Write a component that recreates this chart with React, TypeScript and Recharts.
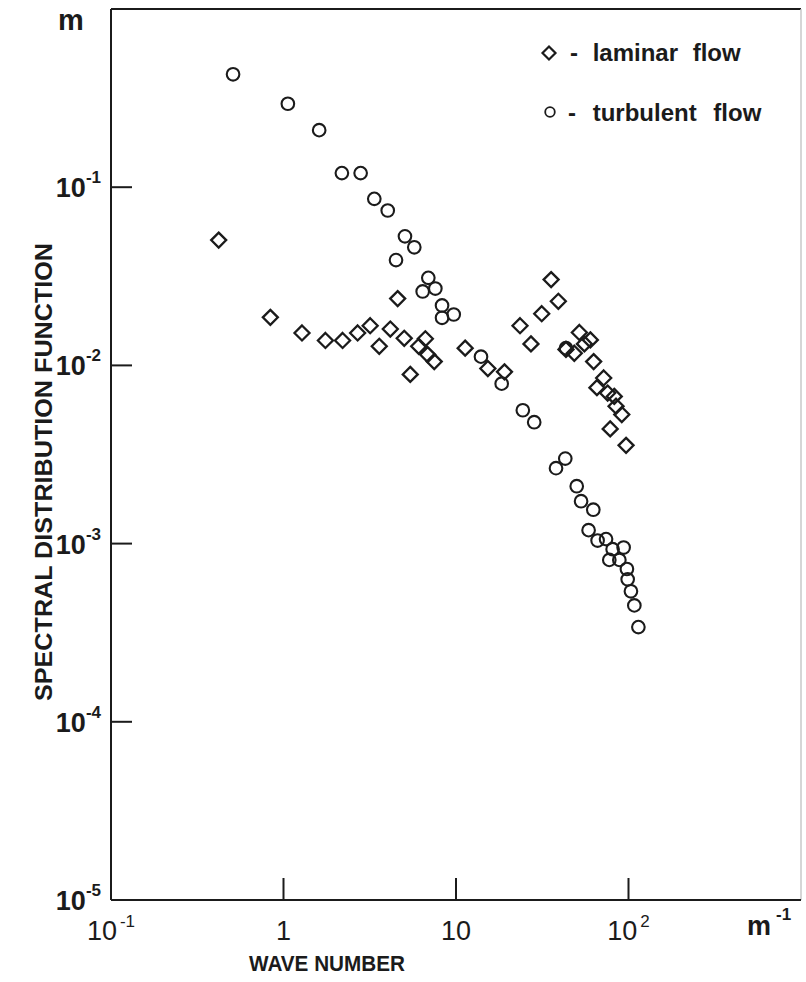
import { ScatterChart, Scatter, XAxis, YAxis, ReferenceLine } from "recharts";

// wave number (m^-1) and spectral density
const laminarX = [
  0.421, 0.839, 1.28, 1.75, 2.2, 2.69, 3.18, 3.59, 4.16, 4.59, 5.01, 5.43, 6.64, 6.08, 6.85, 7.48,
  11.3, 15.3, 19.1, 23.5, 27.2, 31.4, 35.6, 39.2, 43.4, 48.5, 51.9, 60.1, 55.5, 62.8, 71.8, 65.6,
  75.7, 82.7, 84.7, 91.4, 78.3, 96.8,
];
const laminarY = [
  0.0505, 0.0186, 0.0152, 0.0138, 0.0138, 0.0152, 0.0167, 0.0128, 0.016, 0.0237, 0.0142, 0.0089,
  0.0141, 0.0128, 0.0115, 0.0105, 0.0125, 0.0096, 0.0092, 0.0167, 0.0132, 0.0195, 0.0303, 0.0229,
  0.0123, 0.0117, 0.0153, 0.0139, 0.0132, 0.0105, 0.0085, 0.0075, 0.007, 0.0067, 0.0059, 0.0053,
  0.0044, 0.00356,
];
const turbulentX = [
  0.51, 1.06, 1.61, 2.18, 2.8, 3.36, 4.02, 5.06, 5.73, 4.49, 6.91, 6.41, 7.59, 8.3, 9.7, 8.3,
  13.96, 18.4, 24.4, 28.4, 43.4, 43.0, 38.0, 50.1, 53.1, 62.5, 58.7, 66.2, 74.1, 80.9, 93.7, 77.4,
  88.5, 97.9, 98.9, 103.3, 108.1, 114.1,
];
const turbulentY = [
  0.43, 0.294, 0.209, 0.12, 0.12, 0.086, 0.074, 0.053, 0.046, 0.039, 0.031, 0.026, 0.027, 0.0217,
  0.0193, 0.0185, 0.0112, 0.0079, 0.0056, 0.0048, 0.0125, 0.003, 0.00265, 0.0021, 0.00173, 0.00155,
  0.00119, 0.00104, 0.00106, 0.00093, 0.00095, 0.00081, 0.00081, 0.00072, 0.00063, 0.00054,
  0.00045, 0.00034,
];

const xTicks = [0.1, 1, 10, 100];
const xTickLabels = ["10^-1", "1", "10", "10^2"];
const yTicks = [1e-5, 1e-4, 1e-3, 1e-2, 1e-1];
const yTickLabels = ["10^-5", "10^-4", "10^-3", "10^-2", "10^-1"];

const laminarData = laminarX.map((x, i) => ({ x, y: laminarY[i] }));
const turbulentData = turbulentX.map((x, i) => ({ x, y: turbulentY[i] }));

const INK = "#1b1b1b";
const FONT = "'Liberation Sans', Arial, sans-serif";

const splitLabel = (s: string) => {
  const [base, sup] = s.split("^");
  return { base, sup };
};

const XTick = (props: any) => {
  const { x, y, payload, index } = props;
  const { base, sup } = splitLabel(xTickLabels[index] ?? String(payload.value));
  return (
    <g>
      {index > 0 && <line x1={x} x2={x} y1={y} y2={y - 22} stroke={INK} strokeWidth={2} />}
      <text x={x} y={y + 40} textAnchor="middle" fontFamily={FONT} fontSize={27} fill={INK}>
        <tspan>{base}</tspan>
        {sup && (
          <tspan dy={-13} fontSize={17} dx={3}>
            {sup}
          </tspan>
        )}
      </text>
    </g>
  );
};

const YTick = (props: any) => {
  const { x, y, payload, index } = props;
  const { base, sup } = splitLabel(yTickLabels[index] ?? String(payload.value));
  return (
    <g>
      {index > 0 && <line x1={x} x2={x + 21} y1={y} y2={y} stroke={INK} strokeWidth={2} />}
      <text x={x - 10} y={y + 10} textAnchor="end" fontFamily={FONT} fontSize={27} fontWeight="bold" fill={INK}>
        <tspan>{base}</tspan>
        <tspan dy={-14} fontSize={17}>
          {sup}
        </tspan>
      </text>
    </g>
  );
};

const Diamond = (props: any) => {
  const { cx, cy } = props;
  const s = 7.5;
  return (
    <path
      d={`M${cx},${cy - s} L${cx + s},${cy} L${cx},${cy + s} L${cx - s},${cy} Z`}
      fill="none"
      stroke={INK}
      strokeWidth={2.3}
    />
  );
};

const Ring = (props: any) => {
  const { cx, cy } = props;
  return <circle cx={cx} cy={cy} r={6.3} fill="none" stroke={INK} strokeWidth={2.1} />;
};

export default function App() {
  return (
    <div style={{ position: "absolute", left: 0, top: 0, width: 806, height: 982, background: "#fff" }}>
      <ScatterChart width={806} height={982} margin={{ top: 9, right: 5, left: 0, bottom: 0 }}>
        <XAxis
          type="number"
          dataKey="x"
          scale="log"
          domain={[0.1, 1000]}
          ticks={xTicks}
          allowDataOverflow
          height={82}
          tickSize={0}
          tickMargin={0}
          tickLine={false}
          axisLine={{ stroke: INK, strokeWidth: 2 }}
          tick={<XTick />}
        />
        <YAxis
          type="number"
          dataKey="y"
          scale="log"
          domain={[1e-5, 1]}
          ticks={yTicks}
          allowDataOverflow
          width={111}
          tickSize={0}
          tickMargin={0}
          tickLine={false}
          axisLine={{ stroke: INK, strokeWidth: 2 }}
          tick={<YTick />}
        />
        <ReferenceLine y={1} stroke={INK} strokeWidth={2} />
        <ReferenceLine x={1000} stroke="#c8c8c8" strokeWidth={1.5} />
        <Scatter data={laminarData} shape={<Diamond />} isAnimationActive={false} />
        <Scatter data={turbulentData} shape={<Ring />} isAnimationActive={false} />
      </ScatterChart>
      <svg
        width={806}
        height={982}
        style={{ position: "absolute", left: 0, top: 0, pointerEvents: "none" }}
      >
        <text x={58} y={30} fontFamily={FONT} fontSize={29} fontWeight="bold" fill={INK}>
          m
        </text>
        <text x={747} y={935} fontFamily={FONT} fontSize={27} fontWeight="bold" fill={INK}>
          m
          <tspan dy={-15} dx={5} fontSize={17}>
            -1
          </tspan>
        </text>
        <text
          x={327}
          y={971}
          textAnchor="middle"
          fontFamily={FONT}
          fontSize={22}
          fontWeight="bold"
          fill={INK}
          textLength={156}
          lengthAdjust="spacingAndGlyphs"
        >
          WAVE NUMBER
        </text>
        <text
          transform="translate(52, 472) rotate(-90)"
          textAnchor="middle"
          fontFamily={FONT}
          fontSize={24}
          fontWeight="bold"
          fill={INK}
          textLength={458}
          lengthAdjust="spacingAndGlyphs"
        >
          SPECTRAL DISTRIBUTION FUNCTION
        </text>
        <path d="M549,46.5 L555.5,53 L549,59.5 L542.5,53 Z" fill="none" stroke={INK} strokeWidth={2.2} />
        <text x={570} y={61} fontFamily={FONT} fontSize={24} fontWeight="bold" fill={INK} wordSpacing={8}>
          - laminar flow
        </text>
        <circle cx={550} cy={112} r={4.8} fill="none" stroke={INK} strokeWidth={1.8} />
        <text x={568} y={121} fontFamily={FONT} fontSize={24} fontWeight="bold" fill={INK} wordSpacing={10}>
          - turbulent flow
        </text>
      </svg>
    </div>
  );
}
